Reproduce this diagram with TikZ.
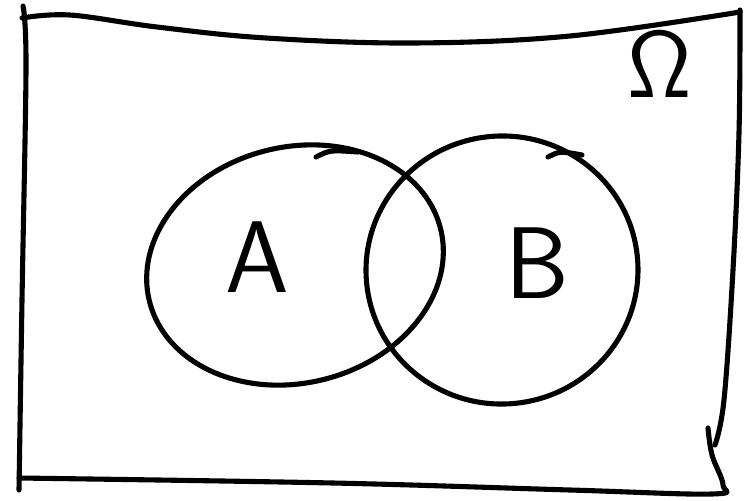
\documentclass[tikz,border=0pt]{standalone}
\usepackage{fontspec}
\usepackage{tikz}
\usetikzlibrary{positioning}
\usetikzlibrary{calc}

\begin{document}
\begin{tikzpicture}[
        x=0.02cm, y=-0.02cm,
        pen/.style={draw=black, line width=2.9pt, line cap=round, line join=round},
        setlabel/.style={font=\sffamily\fontsize{58}{60}\selectfont, inner sep=0pt},
        omegalabel/.style={font=\sffamily\fontsize{54}{56}\selectfont, inner sep=0pt}
    ]
        \useasboundingbox (0,0) rectangle (745,501);

        % frame of the sample space
        \draw[pen] plot[smooth, tension=0.6] coordinates
            {(22,18) (70,15) (157,27) (266,38) (413,43) (570,36) (740,12)};
        \draw[pen] plot[smooth, tension=0.6] coordinates
            {(740,10) (739,133) (733,270) (724,400) (715,445)};
        \draw[pen] plot[smooth, tension=0.6] coordinates
            {(708,428) (712,455) (723,485) (712,494) (570,490) (333,483) (19,478)};
        \draw[pen] plot[smooth, tension=0.6] coordinates
            {(19,490) (22,300) (26,67) (23,6)};

        % the two sets
        \coordinate (cA) at (295,265);
        \coordinate (cB) at (502,270);
        \draw[pen, rotate around={14:(cA)}] (cA) ellipse [x radius=150, y radius=118];
        \draw[pen, rotate around={6:(cB)}] (cB) ellipse [x radius=136, y radius=134];
        \draw[pen] (316,157) .. controls (330,150) .. (358,152);
        \draw[pen] (548,157) .. controls (560,151) .. (582,155);

        \node[setlabel] (labA) at (257,257) {A};
        \node[setlabel] (labB) at (537,263) {B};
        \node[omegalabel] (omega) at (660,64) {Ω};
    \end{tikzpicture}
\end{document}
